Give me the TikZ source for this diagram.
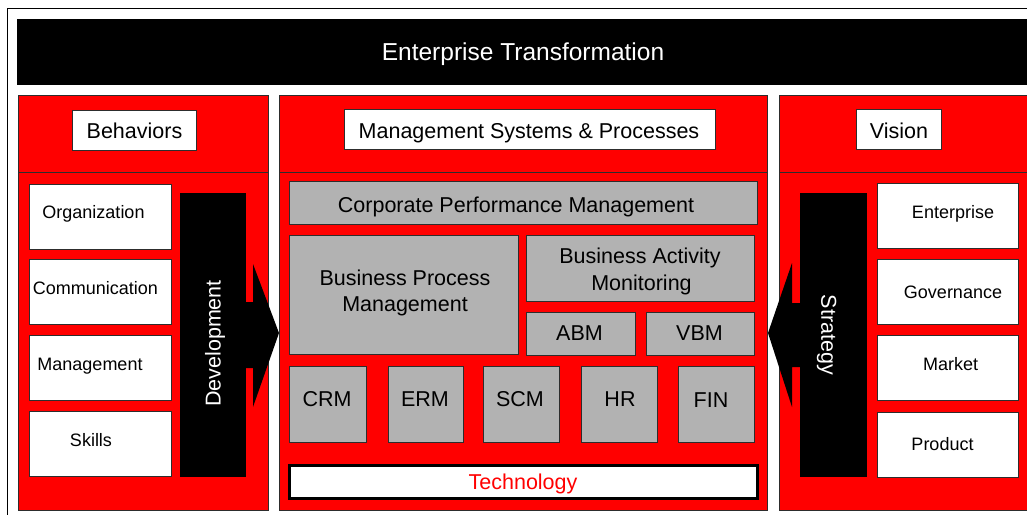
\documentclass[tikz,border=0pt]{standalone}
\usepackage{fontspec}
\setmainfont{Liberation Sans}
\definecolor{boxgray}{RGB}{178,178,178}
\definecolor{edge}{RGB}{45,45,45}
\begin{document}
\begin{tikzpicture}[x=1pt,y=-1pt,
  panel/.style={draw=edge, line width=1pt, fill=red, inner sep=0pt},
  wbox/.style={draw=edge, line width=0.8pt, fill=white, inner sep=0pt},
  gbox/.style={draw=edge, line width=0.8pt, fill=boxgray, inner sep=0pt},
  bar/.style={fill=black, inner sep=0pt},
  big/.style={inner sep=0pt, text height=15.4pt, text depth=0pt, font=\fontsize{21.5}{26}\selectfont},
  small/.style={inner sep=0pt, text height=12.9pt, text depth=0pt, font=\fontsize{18}{22}\selectfont},
  bartext/.style={big, text=white},
  arrowshape/.style={fill=black},
]
\useasboundingbox (0,0) rectangle (1027,514);
\fill[white] (0,0) rectangle (1027,514);
\clip (0,0) rectangle (1027,514);
\draw[line width=1pt] (7,8) rectangle (1060,530);

% banner
\node[fill=black, minimum width=1043, minimum height=66, inner sep=0pt] (banner) at (538.5,52) {};
\node[inner sep=0pt, text height=17.5pt, text depth=0pt, text=white, font=\fontsize{24.5}{30}\selectfont] (bannertext) at (523,51.7) {Enterprise Transformation};

% panels
\node[panel, minimum width=250, minimum height=415] (lp) at (143,302.5) {};
\node[panel, minimum width=488, minimum height=415] (mp) at (523,302.5) {};
\node[panel, minimum width=266, minimum height=415] (rp) at (912,302.5) {};
\draw[edge, line width=1pt] (18,172) -- (268,172);
\draw[edge, line width=1pt] (279,172) -- (767,172);
\draw[edge, line width=1pt] (779,172) -- (1045,172);

% titles
\node[wbox, minimum width=124, minimum height=40] (beh) at (134,130) {};
\node[big] (behtext) at (134.5,130.7) {Behaviors};
\node[wbox, minimum width=371, minimum height=40] (msp) at (529.5,129) {};
\node[big] (msptext) at (529,130.8) {Management Systems \& Processes};
\node[wbox, minimum width=85, minimum height=40] (vis) at (898.5,129) {};
\node[big] (vistext) at (899,130.5) {Vision};

% left column
\node[wbox, minimum width=142, minimum height=65] (org) at (100,217) {};
\node[small] (orgtext) at (93.5,212) {Organization};
\node[wbox, minimum width=142, minimum height=65] (com) at (100,291.5) {};
\node[small] (comtext) at (95.5,288) {Communication};
\node[wbox, minimum width=142, minimum height=65] (man) at (100,367.5) {};
\node[small] (mantext) at (90,364) {Management};
\node[wbox, minimum width=142, minimum height=65] (ski) at (100,443.5) {};
\node[small] (skitext) at (91,440) {Skills};

% development bar and arrow
\node[bar, minimum width=66, minimum height=284] (dev) at (213,335) {};
\fill[arrowshape] (dev.east |- 0,302) -- (253,302) -- (253,264) -- (279,333) -- (253,407) -- (253,368) -- (dev.east |- 0,368) -- cycle;
\node[bartext, rotate=90] (devtext) at (213,343.5) {Development};

% strategy bar and arrow
\node[bar, minimum width=67, minimum height=284] (str) at (833.5,335) {};
\fill[arrowshape] (str.west |- 0,303) -- (792,303) -- (792,263) -- (768,333) -- (792,407) -- (792,367) -- (str.west |- 0,367) -- cycle;
\node[bartext, rotate=-90] (strtext) at (829,335) {Strategy};

% right column
\node[wbox, minimum width=141, minimum height=65] (ent) at (947.5,215.5) {};
\node[small] (enttext) at (953,211.7) {Enterprise};
\node[wbox, minimum width=141, minimum height=65] (gov) at (947.5,291.5) {};
\node[small] (govtext) at (953,292.5) {Governance};
\node[wbox, minimum width=141, minimum height=65] (mkt) at (947.5,367.5) {};
\node[small] (mkttext) at (950.5,364) {Market};
\node[wbox, minimum width=141, minimum height=65] (prd) at (947.5,444.5) {};
\node[small] (prdtext) at (942.5,444) {Product};

% middle
\node[gbox, minimum width=468, minimum height=43] (cpm) at (523,202.5) {};
\node[big] (cpmtext) at (516,204.5) {Corporate Performance Management};
\node[gbox, minimum width=229, minimum height=119] (bpm) at (403.5,294.5) {};
\node[big] (bpmtexta) at (405,277.5) {Business Process};
\node[big] (bpmtextb) at (405,303.5) {Management};
\node[gbox, minimum width=228, minimum height=66] (bam) at (640,268) {};
\node[big] (bamtexta) at (640,256) {Business Activity};
\node[big] (bamtextb) at (641.5,282.5) {Monitoring};
\node[gbox, minimum width=109, minimum height=43] (abm) at (580.5,333.5) {};
\node[big] (abmtext) at (579.5,332.5) {ABM};
\node[gbox, minimum width=108, minimum height=43] (vbm) at (700,333.5) {};
\node[big] (vbmtext) at (699.5,332.5) {VBM};
\node[gbox, minimum width=77, minimum height=76] (crm) at (327.5,404) {};
\node[big] (crmtext) at (327,398.5) {CRM};
\node[gbox, minimum width=75, minimum height=76] (erm) at (425.5,404) {};
\node[big] (ermtext) at (425,398.5) {ERM};
\node[gbox, minimum width=76, minimum height=76] (scm) at (521,404) {};
\node[big] (scmtext) at (520,398.5) {SCM};
\node[gbox, minimum width=76, minimum height=76] (hr) at (619,404) {};
\node[big] (hrtext) at (620,399) {HR};
\node[gbox, minimum width=76, minimum height=76] (fin) at (716,404) {};
\node[big] (fintext) at (711,400) {FIN};
\node[draw=black, line width=3pt, fill=white, inner sep=0pt, minimum width=468, minimum height=33] (tech) at (523.5,482) {};
\node[big, text=red] (techtext) at (523,482) {Technology};
\end{tikzpicture}
\end{document}
